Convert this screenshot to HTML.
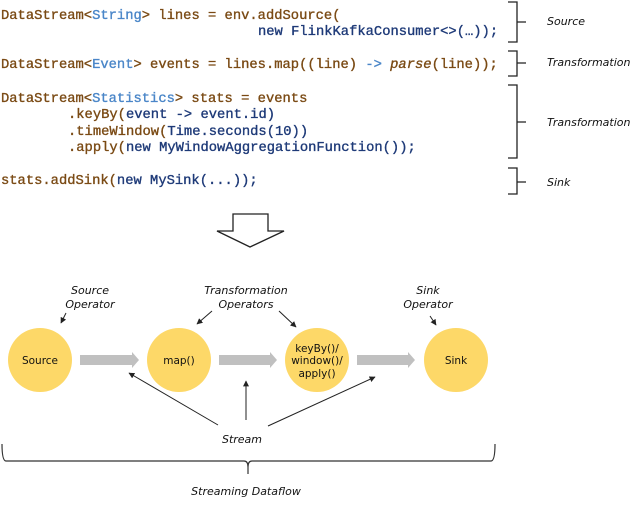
<!DOCTYPE html>
<html><head><meta charset="utf-8"><style>
html,body{margin:0;padding:0;background:#fff;width:641px;height:509px;overflow:hidden}
svg{display:block}
.c{font-family:"Liberation Mono",monospace;font-size:13.8px;font-weight:normal;stroke-width:0.35px}
.b{fill:#7a4a14;stroke:#7a4a14}.l{fill:#4a86c8;stroke:#4a86c8}.n{fill:#1e3a78;stroke:#1e3a78}
.it{font-family:"DejaVu Sans","Liberation Sans",sans-serif;font-style:italic;font-size:11px;fill:#111}
.nd{font-family:"DejaVu Sans","Liberation Sans",sans-serif;font-size:10.5px;fill:#111}
</style></head><body>
<svg width="641" height="509" viewBox="0 0 641 509" xmlns="http://www.w3.org/2000/svg">
<g class="c">
<text x="1" y="19"><tspan class="b">DataStream&lt;</tspan><tspan class="l">String</tspan><tspan class="b">&gt; lines = env.addSource(</tspan></text>
<text x="258" y="35" class="n">new FlinkKafkaConsumer&lt;&gt;(…));</text>
<text x="1" y="68"><tspan class="b">DataStream&lt;</tspan><tspan class="l">Event</tspan><tspan class="b">&gt; events = lines.map((line) </tspan><tspan class="l">-&gt; </tspan><tspan class="b" font-style="italic">parse</tspan><tspan class="b">(line));</tspan></text>
<text x="1" y="102"><tspan class="b">DataStream&lt;</tspan><tspan class="l">Statistics</tspan><tspan class="b">&gt; stats = events</tspan></text>
<text x="68" y="118"><tspan class="b">.keyBy(</tspan><tspan class="n">event -&gt; event.id)</tspan></text>
<text x="68" y="135"><tspan class="b">.timeWindow(</tspan><tspan class="n">Time.seconds(10))</tspan></text>
<text x="68" y="151"><tspan class="b">.apply(</tspan><tspan class="n">new MyWindowAggregationFunction());</tspan></text>
<text x="1" y="184"><tspan class="b">stats.addSink(</tspan><tspan class="n">new MySink(...));</tspan></text>
</g>
<g fill="none" stroke="#222" stroke-width="1.3">
<path d="M508,2 H517 V22 H526 M517,22 V42 H508"/>
<path d="M508,51 H517 V63 H526 M517,63 V76 H508"/>
<path d="M508,85 H517 V122 H526 M517,122 V158 H508"/>
<path d="M508,168 H517 V182 H526 M517,182 V194 H508"/>
</g>
<text class="it" x="547" y="25">Source</text>
<text class="it" x="547" y="66">Transformation</text>
<text class="it" x="547" y="126">Transformation</text>
<text class="it" x="547" y="186">Sink</text>
<polygon points="233,214 268,214 268,231 284,231 250,247 217,231 233,231" fill="#fff" stroke="#222" stroke-width="1.3"/>
<g fill="#c0c0c0">
<polygon points="80,355 132,355 132,352 139,360 132,368 132,365 80,365"/>
<polygon points="219,355 270,355 270,352 277,360 270,368 270,365 219,365"/>
<polygon points="357,355 408,355 408,352 415,360 408,368 408,365 357,365"/>
</g>
<g fill="#fdd868">
<ellipse cx="40" cy="360" rx="32" ry="32"/>
<ellipse cx="179" cy="360" rx="32" ry="32"/>
<ellipse cx="317" cy="360" rx="32" ry="32"/>
<ellipse cx="456" cy="360" rx="32" ry="32"/>
</g>
<text class="nd" x="40" y="364" text-anchor="middle">Source</text>
<text class="nd" x="179" y="364" text-anchor="middle">map()</text>
<text class="nd" x="317" y="352" text-anchor="middle">keyBy()/</text>
<text class="nd" x="317" y="364" text-anchor="middle">window()/</text>
<text class="nd" x="317" y="377" text-anchor="middle">apply()</text>
<text class="nd" x="456" y="364" text-anchor="middle">Sink</text>
<text class="it" x="90" y="294" text-anchor="middle">Source</text>
<text class="it" x="90" y="308" text-anchor="middle">Operator</text>
<text class="it" x="246" y="294" text-anchor="middle">Transformation</text>
<text class="it" x="246" y="308" text-anchor="middle">Operators</text>
<text class="it" x="428" y="294" text-anchor="middle">Sink</text>
<text class="it" x="428" y="308" text-anchor="middle">Operator</text>
<text class="it" x="242" y="443" text-anchor="middle">Stream</text>
<text class="it" x="246" y="495" text-anchor="middle">Streaming Dataflow</text>
<defs><marker id="a" viewBox="0 0 10 10" refX="9" refY="5" markerWidth="6" markerHeight="6" orient="auto"><path d="M0,0 L10,5 L0,10 z" fill="#222"/></marker></defs>
<g stroke="#222" stroke-width="1" marker-end="url(#a)">
<line x1="66" y1="313" x2="61" y2="323"/>
<line x1="212" y1="311" x2="197" y2="324"/>
<line x1="279" y1="311" x2="296" y2="327"/>
<line x1="430" y1="316" x2="436" y2="325"/>
<line x1="218" y1="425" x2="129" y2="373"/>
<line x1="246" y1="420" x2="246" y2="381"/>
<line x1="268" y1="426" x2="375" y2="377"/>
</g>
<path d="M2,444 Q2,461 6,461 H244 Q248,461 248,467 V474 M248,467 Q248,461 252,461 H491 Q495,461 495,444" fill="none" stroke="#333" stroke-width="1.2"/>
</svg>
</body></html>
